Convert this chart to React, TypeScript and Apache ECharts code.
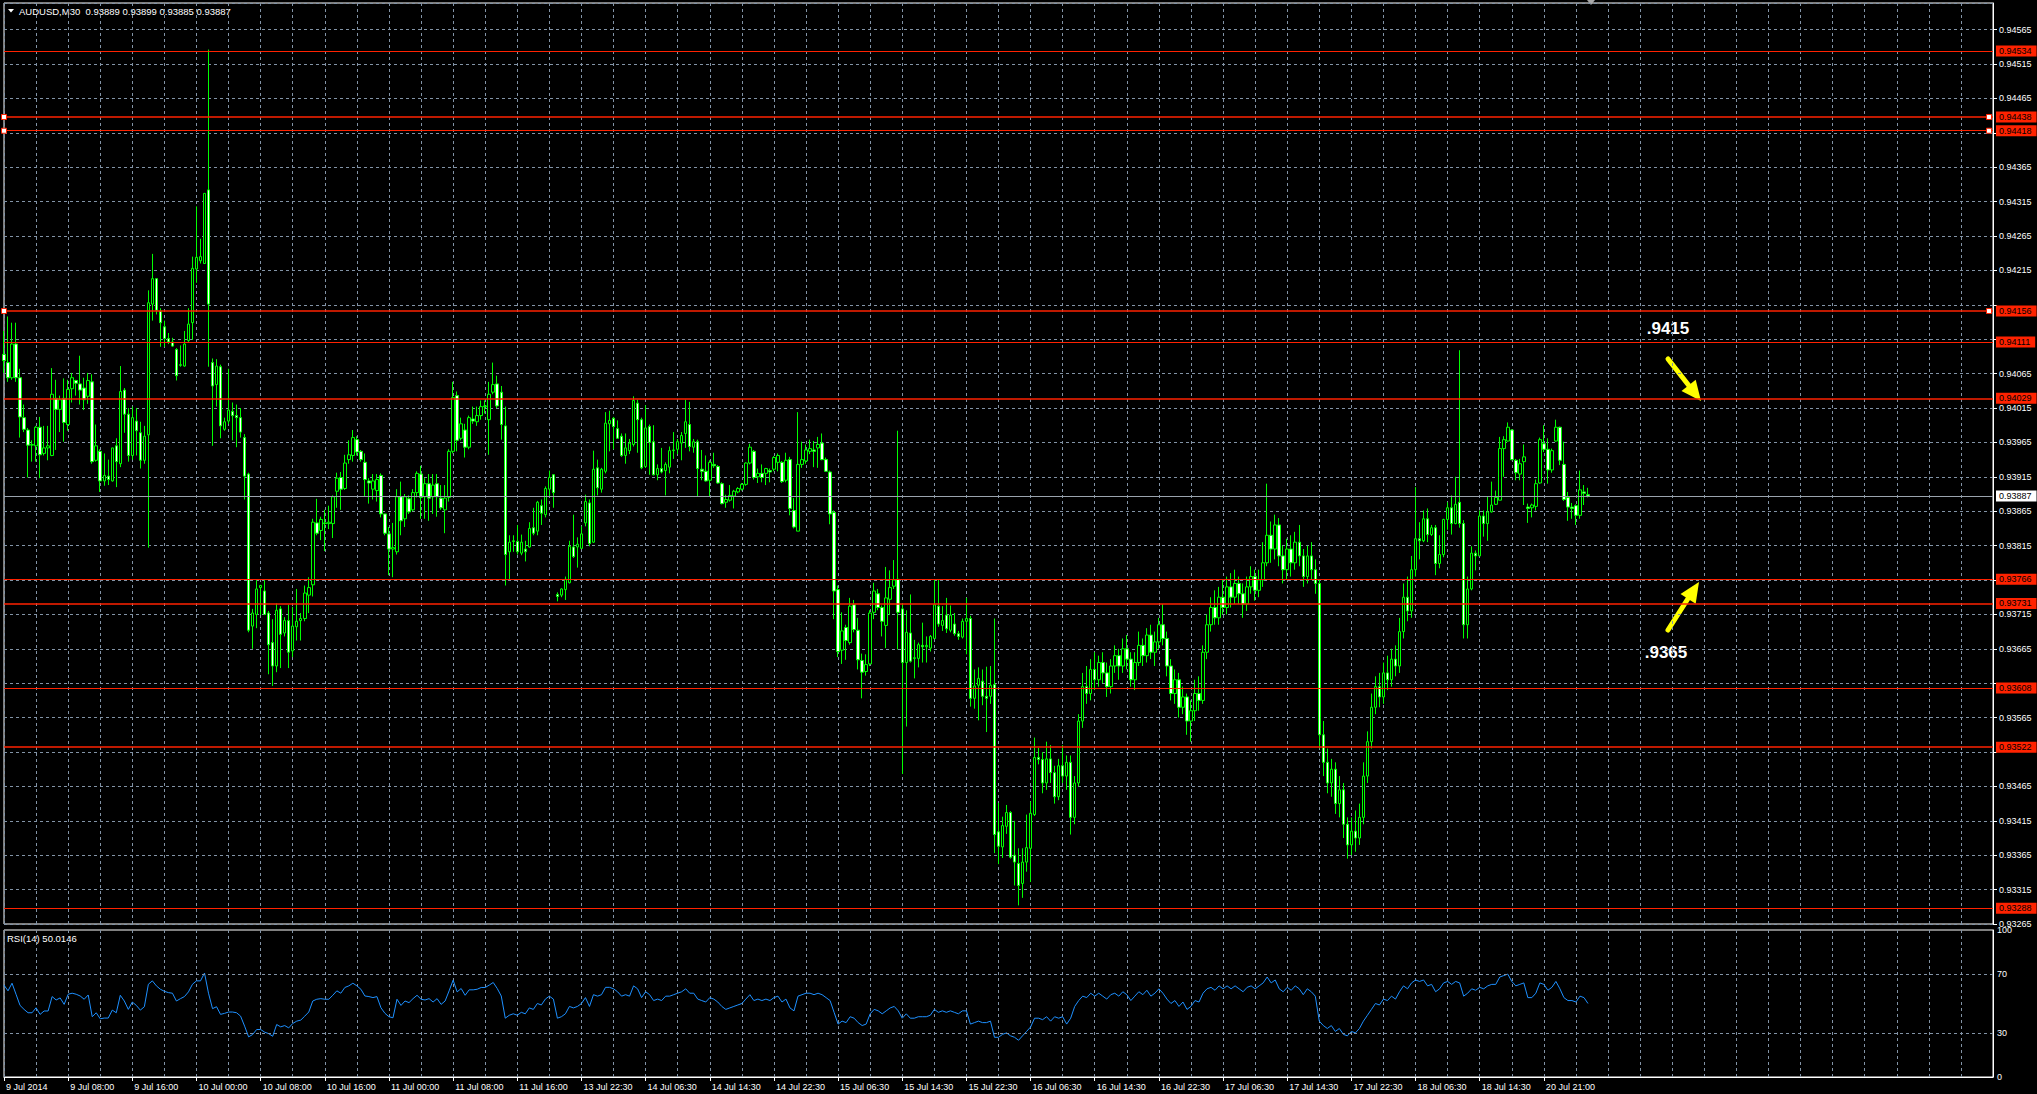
import React, { useEffect, useRef } from 'react';
import * as echarts from 'echarts';

// [open, high, low, close] per M30 bar
type Bar = [number, number, number, number];

const jul09: Bar[] = [
  [0.94093,0.94127,0.94066,0.94084],[0.94081,0.94148,0.94053,0.94059],[0.94059,0.94139,0.94056,0.94108],[0.94108,0.94139,0.94053,0.94059],
  [0.94059,0.94072,0.93972,0.94002],[0.94001,0.94020,0.93980,0.93984],[0.93983,0.93986,0.93914,0.93961],[0.93961,0.93968,0.93937,0.93962],
  [0.93960,0.93989,0.93937,0.93987],[0.93987,0.94002,0.93913,0.93947],[0.93949,0.93989,0.93946,0.93957],[0.93957,0.93989,0.93939,0.93960],
  [0.93946,0.94073,0.93945,0.94035],[0.94029,0.94056,0.93954,0.94013],[0.94013,0.94033,0.93980,0.94027],[0.94029,0.94058,0.93966,0.93994],
  [0.93991,0.94056,0.93982,0.94042],[0.94043,0.94066,0.94023,0.94059],[0.94055,0.94056,0.94033,0.94051],[0.94050,0.94091,0.94020,0.94041],
  [0.94044,0.94059,0.94012,0.94027],[0.94032,0.94066,0.94021,0.94055],[0.94053,0.94064,0.93934,0.93937],[0.93939,0.93991,0.93937,0.93960],
  [0.93952,0.93955,0.93893,0.93909],[0.93909,0.93949,0.93902,0.93917],[0.93916,0.93940,0.93903,0.93911],[0.93909,0.93957,0.93908,0.93957],
  [0.93960,0.93971,0.93900,0.93937],[0.93934,0.94076,0.93929,0.94039],[0.94041,0.94044,0.93979,0.94006],[0.94006,0.94015,0.93937,0.93946],
  [0.93946,0.94017,0.93940,0.94001],[0.93996,0.94015,0.93946,0.93982],[0.93979,0.93995,0.93927,0.93939],[0.93939,0.93989,0.93934,0.93974],
  [0.93976,0.94186,0.93812,0.94168],[0.94166,0.94239,0.94142,0.94203],[0.94203,0.94203,0.94151,0.94157],[0.94156,0.94160,0.94104,0.94139],
  [0.94133,0.94142,0.94104,0.94116],[0.94116,0.94124,0.94108,0.94111],[0.94111,0.94117,0.94104,0.94105],[0.94100,0.94102,0.94055,0.94062],
  [0.94077,0.94106,0.94075,0.94078],[0.94076,0.94127,0.94075,0.94108],[0.94113,0.94160,0.94111,0.94137],[0.94139,0.94235,0.94114,0.94218],
];

const jul10: Bar[] = [
  [0.94217,0.94308,0.94197,0.94234],[0.94229,0.94261,0.94225,0.94235],[0.94225,0.94327,0.94225,0.94327],[0.94332,0.94536,0.94075,0.94166],
  [0.94081,0.94087,0.93960,0.94047],[0.94049,0.94086,0.94017,0.94076],[0.94075,0.94078,0.93971,0.93989],[0.93984,0.94001,0.93982,0.93995],
  [0.93996,0.94072,0.93992,0.94012],[0.94010,0.94023,0.93968,0.94004],[0.94004,0.94020,0.93958,0.94001],[0.94001,0.94015,0.93972,0.93980],
  [0.93972,0.93977,0.93882,0.93916],[0.93919,0.93921,0.93689,0.93692],[0.93698,0.93723,0.93665,0.93717],[0.93715,0.93766,0.93695,0.93752],
  [0.93754,0.93758,0.93714,0.93757],[0.93749,0.93766,0.93714,0.93715],[0.93717,0.93720,0.93628,0.93671],[0.93674,0.93708,0.93611,0.93640],
  [0.93640,0.93731,0.93631,0.93721],[0.93723,0.93727,0.93637,0.93686],[0.93688,0.93711,0.93683,0.93706],[0.93706,0.93729,0.93637,0.93660],
  [0.93662,0.93726,0.93653,0.93698],[0.93697,0.93752,0.93677,0.93705],[0.93706,0.93717,0.93677,0.93709],[0.93709,0.93757,0.93705,0.93746],
  [0.93743,0.93769,0.93717,0.93754],[0.93758,0.93854,0.93741,0.93849],[0.93848,0.93883,0.93830,0.93833],[0.93837,0.93857,0.93823,0.93853],
  [0.93848,0.93867,0.93807,0.93847],[0.93847,0.93873,0.93839,0.93849],[0.93847,0.93888,0.93826,0.93886],[0.93894,0.93921,0.93870,0.93913],
  [0.93914,0.93922,0.93867,0.93897],[0.93898,0.93947,0.93896,0.93935],[0.93940,0.93968,0.93934,0.93947],[0.93946,0.93983,0.93937,0.93972],
  [0.93969,0.93974,0.93946,0.93951],[0.93952,0.93954,0.93937,0.93940],[0.93936,0.93949,0.93886,0.93911],[0.93909,0.93913,0.93876,0.93906],
  [0.93897,0.93919,0.93882,0.93909],[0.93895,0.93919,0.93879,0.93911],[0.93917,0.93920,0.93856,0.93861],[0.93861,0.93861,0.93830,0.93833],
];

const jul11: Bar[] = [
  [0.93832,0.93842,0.93772,0.93810],[0.93810,0.93848,0.93769,0.93812],[0.93806,0.93897,0.93802,0.93886],[0.93886,0.93908,0.93830,0.93851],
  [0.93854,0.93890,0.93842,0.93886],[0.93883,0.93888,0.93861,0.93864],[0.93867,0.93897,0.93865,0.93892],[0.93892,0.93923,0.93885,0.93920],
  [0.93919,0.93931,0.93854,0.93885],[0.93886,0.93913,0.93854,0.93905],[0.93905,0.93919,0.93851,0.93884],[0.93886,0.93919,0.93861,0.93903],
  [0.93905,0.93919,0.93857,0.93886],[0.93884,0.93903,0.93867,0.93870],[0.93867,0.93903,0.93833,0.93884],[0.93885,0.93955,0.93879,0.93952],
  [0.93952,0.94053,0.93949,0.94030],[0.94033,0.94039,0.93952,0.93968],[0.93971,0.94001,0.93968,0.93992],[0.93983,0.93992,0.93943,0.93958],
  [0.93958,0.94004,0.93955,0.94001],[0.93999,0.94017,0.93992,0.93996],[0.93995,0.94017,0.93989,0.94004],[0.94004,0.94026,0.93998,0.94017],
  [0.94017,0.94026,0.94007,0.94018],[0.93998,0.94053,0.93947,0.94035],[0.94038,0.94081,0.94035,0.94049],[0.94050,0.94062,0.94015,0.94018],
  [0.94038,0.94047,0.93969,0.93991],[0.93989,0.94017,0.93757,0.93802],[0.93806,0.93830,0.93766,0.93820],[0.93821,0.93830,0.93806,0.93822],
  [0.93821,0.93845,0.93802,0.93806],[0.93804,0.93831,0.93801,0.93820],[0.93810,0.93822,0.93792,0.93806],[0.93813,0.93849,0.93812,0.93840],
  [0.93841,0.93870,0.93830,0.93833],[0.93836,0.93880,0.93830,0.93878],[0.93873,0.93882,0.93845,0.93862],[0.93860,0.93901,0.93856,0.93898],
  [0.93897,0.93924,0.93887,0.93914],[0.93918,0.93919,0.93870,0.93892],
];

const jul13to14: Bar[] = [
  [0.93744,0.93747,0.93734,0.93741],[0.93743,0.93753,0.93740,0.93752],[0.93751,0.93770,0.93736,0.93766],[0.93761,0.93822,0.93760,0.93814],
  [0.93813,0.93860,0.93797,0.93799],[0.93813,0.93827,0.93783,0.93817],[0.93811,0.93843,0.93810,0.93832],[0.93848,0.93889,0.93843,0.93879],
  [0.93877,0.93882,0.93814,0.93818],[0.93820,0.93953,0.93819,0.93926],[0.93928,0.93940,0.93888,0.93899],[0.93897,0.93928,0.93892,0.93926],
  [0.93923,0.94009,0.93920,0.93993],[0.93992,0.94011,0.93952,0.93997],[0.94000,0.94002,0.93955,0.93988],[0.93985,0.93997,0.93970,0.93971],
  [0.93974,0.93978,0.93944,0.93946],[0.93946,0.93978,0.93934,0.93957],[0.93953,0.93970,0.93948,0.93964],[0.93962,0.94032,0.93959,0.94026],
  [0.94022,0.94027,0.93950,0.93998],[0.93998,0.94001,0.93926,0.93928],[0.93930,0.94019,0.93928,0.93986],[0.93988,0.93991,0.93918,0.93965],
  [0.93966,0.93990,0.93917,0.93918],[0.93918,0.93933,0.93910,0.93927],[0.93927,0.93957,0.93920,0.93922],[0.93924,0.93936,0.93888,0.93933],
  [0.93929,0.93959,0.93920,0.93953],[0.93953,0.93980,0.93941,0.93954],[0.93955,0.93970,0.93948,0.93966],[0.93964,0.93980,0.93939,0.93975],
  [0.93978,0.94027,0.93957,0.93995],[0.93991,0.94024,0.93952,0.93959],[0.93958,0.93970,0.93950,0.93966],[0.93966,0.93969,0.93886,0.93927],
  [0.93926,0.93954,0.93910,0.93923],[0.93923,0.93946,0.93908,0.93909],[0.93910,0.93939,0.93886,0.93936],[0.93933,0.93950,0.93928,0.93931],
  [0.93930,0.93932,0.93905,0.93906],[0.93905,0.93907,0.93875,0.93876],[0.93878,0.93889,0.93870,0.93882],[0.93881,0.93903,0.93879,0.93888],
  [0.93887,0.93896,0.93869,0.93894],[0.93893,0.93900,0.93891,0.93898],[0.93897,0.93906,0.93895,0.93904],[0.93904,0.93936,0.93902,0.93935],
  [0.93935,0.93963,0.93933,0.93958],[0.93952,0.93954,0.93911,0.93914],[0.93915,0.93927,0.93906,0.93920],[0.93920,0.93933,0.93907,0.93914],
  [0.93920,0.93928,0.93903,0.93927],[0.93924,0.93927,0.93907,0.93922],[0.93926,0.93945,0.93923,0.93943],[0.93936,0.93949,0.93923,0.93946],
  [0.93936,0.93938,0.93906,0.93908],
];

const jul15: Bar[] = [
  [0.93910,0.93950,0.93907,0.93939],[0.93940,0.93944,0.93859,0.93869],[0.93866,0.93884,0.93840,0.93842],[0.93836,0.94009,0.93836,0.93933],
  [0.93933,0.93966,0.93928,0.93940],[0.93938,0.93962,0.93934,0.93954],[0.93952,0.93969,0.93948,0.93956],[0.93954,0.93967,0.93929,0.93952],
  [0.93957,0.93973,0.93928,0.93962],[0.93964,0.93978,0.93939,0.93940],[0.93940,0.93943,0.93922,0.93923],[0.93922,0.93924,0.93846,0.93861],
  [0.93863,0.93866,0.93708,0.93749],[0.93751,0.93757,0.93653,0.93661],[0.93663,0.93718,0.93643,0.93691],[0.93696,0.93700,0.93649,0.93677],
  [0.93674,0.93739,0.93671,0.93727],[0.93729,0.93736,0.93689,0.93693],[0.93692,0.93710,0.93635,0.93649],[0.93648,0.93658,0.93593,0.93631],
  [0.93632,0.93657,0.93626,0.93642],[0.93643,0.93721,0.93640,0.93717],[0.93718,0.93761,0.93708,0.93749],[0.93745,0.93752,0.93721,0.93725],
  [0.93725,0.93728,0.93683,0.93705],[0.93699,0.93784,0.93666,0.93739],[0.93737,0.93779,0.93714,0.93754],[0.93756,0.93794,0.93752,0.93765],
  [0.93766,0.93982,0.93664,0.93718],[0.93723,0.93731,0.93483,0.93645],[0.93645,0.93721,0.93552,0.93689],[0.93688,0.93744,0.93645,0.93647],
  [0.93651,0.93678,0.93622,0.93652],[0.93651,0.93674,0.93638,0.93671],[0.93670,0.93703,0.93645,0.93668],[0.93668,0.93683,0.93645,0.93670],
  [0.93666,0.93685,0.93661,0.93683],[0.93680,0.93765,0.93679,0.93729],[0.93727,0.93766,0.93697,0.93701],[0.93699,0.93727,0.93691,0.93706],
  [0.93714,0.93739,0.93688,0.93694],[0.93692,0.93728,0.93689,0.93714],[0.93701,0.93717,0.93684,0.93687],[0.93687,0.93691,0.93678,0.93683],
  [0.93682,0.93709,0.93680,0.93705],[0.93705,0.93739,0.93657,0.93709],[0.93709,0.93713,0.93581,0.93593],[0.93593,0.93635,0.93578,0.93611],
];

const jul16: Bar[] = [
  [0.93612,0.93638,0.93561,0.93622],[0.93618,0.93635,0.93583,0.93596],[0.93596,0.93639,0.93544,0.93593],[0.93596,0.93640,0.93585,0.93612],
  [0.93613,0.93709,0.93368,0.93395],[0.93399,0.93441,0.93352,0.93378],[0.93377,0.93421,0.93361,0.93408],[0.93407,0.93438,0.93396,0.93427],
  [0.93427,0.93429,0.93360,0.93362],[0.93365,0.93415,0.93321,0.93355],[0.93353,0.93375,0.93292,0.93321],[0.93324,0.93375,0.93303,0.93355],
  [0.93355,0.93424,0.93341,0.93376],[0.93375,0.93443,0.93326,0.93426],[0.93424,0.93536,0.93422,0.93507],[0.93507,0.93521,0.93497,0.93504],
  [0.93504,0.93515,0.93455,0.93470],[0.93470,0.93530,0.93460,0.93505],[0.93505,0.93525,0.93470,0.93485],[0.93485,0.93495,0.93440,0.93450],
  [0.93450,0.93505,0.93445,0.93495],[0.93495,0.93525,0.93470,0.93480],[0.93480,0.93510,0.93460,0.93500],[0.93500,0.93510,0.93395,0.93420],
  [0.93420,0.93480,0.93410,0.93470],[0.93470,0.93570,0.93465,0.93560],[0.93560,0.93630,0.93550,0.93610],[0.93610,0.93640,0.93585,0.93600],
  [0.93600,0.93650,0.93590,0.93635],[0.93635,0.93660,0.93605,0.93620],[0.93620,0.93655,0.93610,0.93645],[0.93645,0.93660,0.93615,0.93630],
  [0.93630,0.93645,0.93595,0.93610],[0.93610,0.93650,0.93600,0.93640],[0.93640,0.93670,0.93630,0.93655],[0.93655,0.93665,0.93620,0.93640],
  [0.93640,0.93680,0.93630,0.93665],[0.93665,0.93685,0.93635,0.93650],[0.93650,0.93660,0.93610,0.93620],[0.93620,0.93660,0.93605,0.93645],
  [0.93645,0.93690,0.93640,0.93670],[0.93670,0.93680,0.93640,0.93655],[0.93655,0.93695,0.93645,0.93685],[0.93685,0.93700,0.93650,0.93660],
  [0.93660,0.93690,0.93640,0.93675],[0.93675,0.93710,0.93665,0.93700],[0.93700,0.93730,0.93670,0.93680],[0.93680,0.93690,0.93625,0.93640],
];

const jul17: Bar[] = [
  [0.93640,0.93650,0.93590,0.93600],[0.93600,0.93635,0.93585,0.93620],[0.93620,0.93630,0.93565,0.93580],[0.93580,0.93610,0.93570,0.93595],
  [0.93595,0.93600,0.93540,0.93560],[0.93560,0.93590,0.93530,0.93575],[0.93575,0.93620,0.93560,0.93600],[0.93600,0.93625,0.93575,0.93590],
  [0.93590,0.93670,0.93585,0.93660],[0.93660,0.93715,0.93650,0.93700],[0.93700,0.93740,0.93690,0.93725],[0.93725,0.93750,0.93700,0.93710],
  [0.93710,0.93755,0.93700,0.93740],[0.93740,0.93765,0.93715,0.93725],[0.93725,0.93770,0.93715,0.93755],[0.93755,0.93775,0.93725,0.93740],
  [0.93740,0.93780,0.93730,0.93760],[0.93760,0.93770,0.93730,0.93745],[0.93745,0.93760,0.93710,0.93730],[0.93730,0.93770,0.93720,0.93755],
  [0.93755,0.93785,0.93745,0.93770],[0.93770,0.93780,0.93735,0.93750],[0.93750,0.93780,0.93740,0.93765],[0.93765,0.93820,0.93755,0.93790],
  [0.93790,0.93905,0.93785,0.93830],[0.93830,0.93850,0.93790,0.93810],[0.93810,0.93860,0.93795,0.93845],[0.93845,0.93855,0.93785,0.93800],
  [0.93800,0.93815,0.93760,0.93780],[0.93780,0.93825,0.93765,0.93810],[0.93810,0.93830,0.93770,0.93790],[0.93790,0.93835,0.93780,0.93820],
  [0.93820,0.93845,0.93785,0.93800],[0.93800,0.93810,0.93755,0.93770],[0.93770,0.93815,0.93760,0.93800],[0.93800,0.93820,0.93765,0.93780],
  [0.93780,0.93795,0.93745,0.93760],[0.93760,0.93765,0.93520,0.93540],[0.93540,0.93560,0.93480,0.93500],[0.93500,0.93520,0.93455,0.93470],
  [0.93470,0.93505,0.93450,0.93490],[0.93490,0.93500,0.93425,0.93440],[0.93440,0.93480,0.93420,0.93460],[0.93460,0.93470,0.93390,0.93410],
  [0.93410,0.93420,0.93360,0.93380],[0.93380,0.93420,0.93365,0.93400],[0.93400,0.93430,0.93370,0.93390],[0.93390,0.93440,0.93380,0.93420],
];

const jul18to20: Bar[] = [
  [0.93420,0.93500,0.93410,0.93480],[0.93480,0.93545,0.93470,0.93530],[0.93530,0.93600,0.93520,0.93580],[0.93580,0.93625,0.93570,0.93610],
  [0.93610,0.93630,0.93580,0.93595],[0.93595,0.93645,0.93585,0.93630],[0.93630,0.93655,0.93605,0.93620],[0.93620,0.93665,0.93610,0.93650],
  [0.93650,0.93670,0.93625,0.93640],[0.93640,0.93710,0.93630,0.93690],[0.93690,0.93760,0.93680,0.93740],[0.93740,0.93770,0.93705,0.93720],
  [0.93720,0.93800,0.93710,0.93780],[0.93780,0.93900,0.93770,0.93825],[0.93825,0.93849,0.93795,0.93822],[0.93822,0.93866,0.93820,0.93854],
  [0.93854,0.93869,0.93820,0.93831],[0.93831,0.93845,0.93829,0.93841],[0.93841,0.93845,0.93772,0.93789],[0.93789,0.93830,0.93782,0.93802],
  [0.93802,0.93854,0.93798,0.93853],[0.93853,0.93878,0.93838,0.93870],[0.93870,0.93888,0.93831,0.93847],[0.93847,0.93915,0.93846,0.93875],
  [0.93878,0.94099,0.93841,0.93847],[0.93847,0.93852,0.93680,0.93700],[0.93700,0.93770,0.93680,0.93752],[0.93752,0.93814,0.93750,0.93804],
  [0.93804,0.93808,0.93779,0.93800],[0.93800,0.93866,0.93800,0.93858],[0.93858,0.93866,0.93828,0.93847],[0.93847,0.93886,0.93822,0.93864],
  [0.93864,0.93908,0.93863,0.93874],[0.93875,0.93895,0.93874,0.93885],[0.93881,0.93973,0.93881,0.93956],[0.93956,0.93974,0.93915,0.93969],
  [0.93967,0.93994,0.93966,0.93987],[0.93983,0.93984,0.93939,0.93940],[0.93939,0.93941,0.93910,0.93921],[0.93919,0.93941,0.93910,0.93934],
  [0.93937,0.93962,0.93874,0.93944],[0.93871,0.93876,0.93848,0.93869],[0.93870,0.93876,0.93856,0.93874],[0.93872,0.93911,0.93866,0.93905],
  [0.93906,0.93972,0.93905,0.93969],[0.93963,0.93990,0.93951,0.93955],[0.93955,0.93971,0.93905,0.93925],[0.93925,0.93956,0.93921,0.93953],
  [0.93967,0.93998,0.93966,0.93987],[0.93987,0.93988,0.93932,0.93939],[0.93933,0.93966,0.93880,0.93882],[0.93885,0.93893,0.93851,0.93871],
  [0.93871,0.93877,0.93854,0.93869],[0.93873,0.93875,0.93845,0.93859],[0.93859,0.93924,0.93854,0.93896],[0.93893,0.93903,0.93874,0.93891],
  [0.93889,0.93899,0.93885,0.93887],
];

const rsi14: number[] = [
  62.5,58.6,63.8,56.3,48.7,46,43.7,43.7,47.1,42.6,
  44.9,44.9,54.7,52.4,53.8,49.4,56.3,57,56.3,55.1,
  52.9,55.8,41,43.7,39.6,40.1,40.1,45.5,43.7,55.6,
  51.7,46,51,48.7,45.5,47.8,63.1,65.4,62,59.7,
  58.3,57.4,57,51.7,53.3,54.7,57.9,63.1,65.4,65.4,
  70.7,57,46.5,47.8,42.6,43.3,44.2,44.2,43.7,41.4,
  34.6,27.3,28.9,32.3,32.3,30.5,29.5,27.7,35.7,34.1,
  35,33.4,36.4,38,38.7,41.4,44.2,51.7,52.9,53.3,
  52.9,52.9,55.6,58.6,57,60.9,62,63.8,62,59.7,
  55.1,54.7,54,54.7,47.1,43.3,41,40.3,52.9,48.7,
  51.7,50.6,53.3,55.6,52.9,52.4,53.3,51,53.3,49.4,
  51.7,58.6,65.9,57.9,60.2,55.6,59.3,59.3,59.7,60.9,
  60.9,62.5,64.3,60.2,55.1,
  40,42,43,42,44,43,47,46,50,49,53,55,53,
  40,41,43,48,47,48,50,54,
  48,56,55,56,61,61,60,58,55,56,55,62,60,54,58,
  56,52,53,52,55,55,56,57,58,60,57,57,53,52,51,54,53,51,48,46,
  47,48,49,50,53,56,52,53,52,53,52,54,55,51,53,47,45,55,56,57,
  57,56,57,56,54,52,44,
  36,38,37,41,40,37,35,36,43,46,45,43,45,47,48,
  45,40,43,40,40,41,41,41,42,46,44,45,44,45,44,43,45,45,
  36,37,38,37,37,38,27,27,29,30,28,27,25,28,31,34,
  40,40,39,41,38,41,40,41,36,40,48,52,
  55,54,57,55,57,55,53,56,57,55,58,56,52,55,58,56,59,55,57,60,57,53,50,52,48,51,46,48,52,51,57,60,
  61,59,62,60,62,60,62,60,58,61,62,60,62,64,68,
  64,66,60,58,61,59,62,60,56,60,58,55,
  38,35,33,35,31,33,29,28,31,30,33,38,42,
  46,50,49,53,52,55,53,58,62,60,
  64,66,65,66,62,63,58,60,64,65,63,65,64,
  55,57,60,59,61,60,62,63,63,
  68,69,70,65,62,63,64,
  54,54,57,64,63,59,61,65,60,54,52,52,51,55,54,50.0146,
];

const xLabels: string[] = [
  '9 Jul 2014','9 Jul 08:00','9 Jul 16:00','10 Jul 00:00','10 Jul 08:00','10 Jul 16:00','11 Jul 00:00',
  '11 Jul 08:00','11 Jul 16:00','13 Jul 22:30','14 Jul 06:30','14 Jul 14:30','14 Jul 22:30','15 Jul 06:30',
  '15 Jul 14:30','15 Jul 22:30','16 Jul 06:30','16 Jul 14:30','16 Jul 22:30','17 Jul 06:30','17 Jul 14:30',
  '17 Jul 22:30','18 Jul 06:30','18 Jul 14:30','20 Jul 21:00',
];

const levelLines: number[] = [0.94534,0.94438,0.94418,0.94156,0.94111,0.94029,0.93766,0.93731,0.93608,0.93522,0.93288];
const markedLevels: number[] = [0.94438,0.94418,0.94156];
const currentPrice = 0.93887;
const symbolName = 'AUDUSD,M30';
const rsiName = 'RSI(14)';
const rsiBands: number[] = [70, 30];
const rsiLabels: number[] = [0, 30, 70, 100];
const annotationTexts: string[] = ['.9415', '.9365'];

// ---- layout / style ----
const W = 2037, H = 1094;
const SLOTS = 497;          // bars + empty future space on the right
const BARS_PER_LABEL = 16;
const BARS_PER_GRID = 8;
const SHIFT = 15;           // grid lines sit at ...15 / ...65
const RED = '#ff2200';
const GRIDC = '#8293a6';
const FONT = '"Liberation Sans", Arial, sans-serif';
const thickLevels = new Set([0.94438, 0.94156, 0.94029, 0.93731, 0.93522]);

const toAxis = (p: number) => Math.round(p * 1e5) - SHIFT;
const fmtPrice = (v: number) => ((v + SHIFT) / 1e5).toFixed(5);

export default function App() {
  const ref = useRef<HTMLDivElement>(null);
  useEffect(() => {
    document.body.style.margin = '0';
    document.body.style.background = '#000';
    const chart = echarts.init(ref.current!, null, { renderer: 'svg' });

    const bars: Bar[] = [...jul09, ...jul10, ...jul11, ...jul13to14, ...jul15, ...jul16, ...jul17, ...jul18to20];
    const cats = Array.from({ length: SLOTS }, (_, i) => String(i));
    const candleData = bars.map((b) => [toAxis(b[0]), toAxis(b[3]), toAxis(b[2]), toAxis(b[1])]);
    const last = bars[bars.length - 1];
    const title = `${symbolName}  ${last.map((v) => v.toFixed(5)).join(' ')}`;
    const lastRsi = rsi14[rsi14.length - 1];

    const gridTop = 3, gridH = 921;
    const pxPerPoint = 0.688;
    const yMin = 93250;
    const yMax = yMin + gridH / pxPerPoint;

    const splitStyle = { color: GRIDC, width: 1, type: [3, 3] as any };
    const gridInterval = (i: number) => i % BARS_PER_GRID === 0;
    const labelInterval = (i: number) => i % BARS_PER_LABEL === 0 && i / BARS_PER_LABEL < xLabels.length;
    // axis price labels hidden where a level box sits on top of them (as in the terminal)
    const levelAxis = [...levelLines, currentPrice].map(toAxis);
    const coveredByBox = (v: number) => levelAxis.some((l) => Math.abs(l - v) < 11);

    const mlData: any[] = levelLines.map((v) => ({
      yAxis: toAxis(v),
      lineStyle: { color: RED, width: thickLevels.has(v) ? 1.6 : 1, type: 'solid' },
      label: { formatter: v.toFixed(5), backgroundColor: RED, color: '#000' },
    }));
    mlData.push({
      yAxis: toAxis(currentPrice),
      lineStyle: { color: '#9aa3ad', width: 1, type: 'solid' },
      label: { formatter: currentPrice.toFixed(5), backgroundColor: '#fff', color: '#000' },
    });

    const mpData: any[] = [];
    markedLevels.forEach((v) => {
      mpData.push({ coord: ['0', toAxis(v)] });
      mpData.push({ coord: ['495', toAxis(v)] });
    });

    const option: any = {
      animation: false,
      backgroundColor: '#000',
      textStyle: { fontFamily: FONT },
      grid: [
        { left: 4, top: gridTop, width: 1989, height: gridH, show: true, borderColor: '#fff', borderWidth: 1, backgroundColor: 'transparent' },
        { left: 4, top: 930, width: 1989, height: 147, show: true, borderColor: '#fff', borderWidth: 1, backgroundColor: 'transparent' },
      ],
      xAxis: [
        {
          type: 'category', gridIndex: 0, data: cats, boundaryGap: false,
          axisLine: { show: false }, axisTick: { show: false }, axisLabel: { show: false },
          splitLine: { show: true, interval: gridInterval, lineStyle: splitStyle },
        },
        {
          type: 'category', gridIndex: 1, data: cats, boundaryGap: false,
          axisLine: { show: true, lineStyle: { color: '#fff', width: 1 } },
          axisTick: { show: true, interval: labelInterval, length: 4, lineStyle: { color: '#fff' } },
          axisLabel: {
            show: true, interval: labelInterval, color: '#fff', fontSize: 9, fontFamily: FONT,
            align: 'left', margin: 5, padding: [0, 0, 0, 2],
            formatter: (v: string) => {
              const i = Number(v);
              return i % BARS_PER_LABEL === 0 ? xLabels[i / BARS_PER_LABEL] ?? '' : '';
            },
          },
          splitLine: { show: true, interval: gridInterval, lineStyle: splitStyle },
        },
      ],
      yAxis: [
        {
          type: 'value', gridIndex: 0, position: 'right', min: yMin, max: yMax, interval: 50,
          axisLine: { show: true, lineStyle: { color: '#fff' } },
          axisTick: { show: true, length: 4, lineStyle: { color: '#fff' } },
          axisLabel: {
            color: '#fff', fontSize: 9, fontFamily: FONT, margin: 6, showMaxLabel: false,
            formatter: (v: number) => (coveredByBox(v) ? '' : fmtPrice(v)),
          },
          splitLine: { show: true, lineStyle: splitStyle },
        },
        {
          type: 'value', gridIndex: 1, position: 'right', min: 0, max: 100, interval: 10,
          axisLine: { show: true, lineStyle: { color: '#fff' } },
          axisTick: { show: false },
          axisLabel: {
            color: '#fff', fontSize: 9, fontFamily: FONT, margin: 4,
            alignMinLabel: 'bottom', alignMaxLabel: 'top',
            formatter: (v: number) => (rsiLabels.includes(v) ? String(v) : ''),
          },
          splitLine: { show: false },
        },
      ],
      series: [
        {
          type: 'candlestick', xAxisIndex: 0, yAxisIndex: 0, data: candleData, barWidth: 3,
          itemStyle: { color: '#000', color0: '#fff', borderColor: '#00ff00', borderColor0: '#00ff00', borderWidth: 1 },
          emphasis: { disabled: true },
          markLine: {
            silent: true, symbol: ['none', 'none'], animation: false,
            label: { show: true, position: 'end', distance: 3, fontSize: 9, fontFamily: FONT, padding: [1, 5, 0, 3], lineHeight: 10 },
            data: mlData,
          },
          markPoint: {
            silent: true, symbol: 'rect', symbolSize: 5, animation: false,
            itemStyle: { color: '#fff', borderColor: RED, borderWidth: 1 },
            label: { show: false },
            data: mpData,
          },
        },
        {
          type: 'line', xAxisIndex: 1, yAxisIndex: 1, data: rsi14, showSymbol: false, symbol: 'none',
          lineStyle: { color: '#1e90ff', width: 1 }, emphasis: { disabled: true },
          markLine: {
            silent: true, symbol: ['none', 'none'], animation: false, label: { show: false },
            lineStyle: { color: GRIDC, width: 1, type: [3, 3] },
            data: rsiBands.map((v) => ({ yAxis: v })),
          },
        },
      ],
      graphic: [
        { type: 'polygon', shape: { points: [[8, 9], [14, 9], [11, 12.5]] }, style: { fill: '#fff' } },
        { type: 'text', x: 19, y: 11, style: { text: title, fill: '#fff', font: `9.5px ${FONT}`, verticalAlign: 'middle' } },
        { type: 'text', x: 7, y: 938, style: { text: `${rsiName} ${lastRsi.toFixed(4)}`, fill: '#fff', font: `9.5px ${FONT}`, verticalAlign: 'middle' } },
        { type: 'polygon', shape: { points: [[1587, 0], [1595, 0], [1591, 5]] }, style: { fill: '#a8a8a8' } },
        { type: 'text', x: 1668, y: 328, style: { text: annotationTexts[0], fill: '#fff', font: `bold 17px ${FONT}`, align: 'center', verticalAlign: 'middle' } },
        { type: 'text', x: 1666, y: 652, style: { text: annotationTexts[1], fill: '#fff', font: `bold 17px ${FONT}`, align: 'center', verticalAlign: 'middle' } },
        { type: 'line', shape: { x1: 1668, y1: 359, x2: 1690, y2: 387 }, style: { stroke: '#ffff00', lineWidth: 5, lineCap: 'round' } },
        { type: 'polygon', shape: { points: [[1701, 401], [1681.5, 391], [1695.7, 379.7]] }, style: { fill: '#ffff00' } },
        { type: 'line', shape: { x1: 1668, y1: 630, x2: 1689, y2: 597 }, style: { stroke: '#ffff00', lineWidth: 5, lineCap: 'round' } },
        { type: 'polygon', shape: { points: [[1699, 582], [1695.7, 603.7], [1680.5, 593.9]] }, style: { fill: '#ffff00' } },
      ],
    };
    chart.setOption(option);
    return () => chart.dispose();
  }, []);
  return <div ref={ref} style={{ width: W, height: H, background: '#000' }} />;
}
